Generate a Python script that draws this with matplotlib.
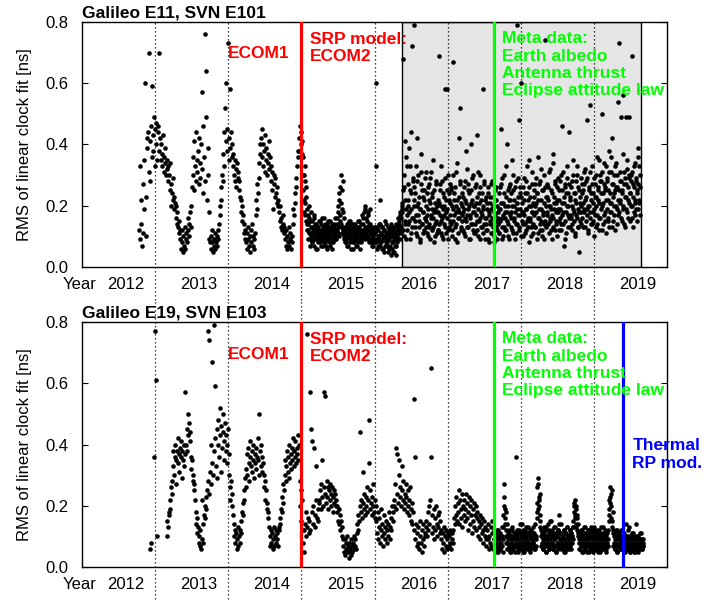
import numpy as np
import matplotlib
matplotlib.use("Agg")
import matplotlib.pyplot as plt
from matplotlib.ticker import FormatStrFormatter

plt.rcParams['font.family'] = ['Liberation Sans', 'DejaVu Sans']

# --- Data: RMS of linear clock fit, sampled every 3rd day, in units of 0.01 ns ---
STEP_DAYS = 3
e11_start = 2012.78
e19_start = 2012.93
# second sampling, shifted by 1.5 days, for the dense later periods
e11_b_start = 2015.018
e19_b_start = 2017.632

e11_rms = [
    # 2012.8 - 2015.0 (ECOM1, eclipse-season pattern)
    12, 33, 9, 22, 14, 7, 27, 11, 35, 19, 60, 10, 23, 42,
    39, 44, 31, 70, 41, 28, 46, 36, 59, 43, 38, 49, 33, 45, 40, 47, 35,
    44, 46, 70, 38, 42, 35, 40, 33, 37, 43, 31, 36, 34, 39, 30, 35, 32,
    33, 28, 30, 25, 34, 20, 27, 24, 29, 22,
    23, 19, 21, 16, 20, 14, 18, 13, 15, 11, 12,
    9, 6, 12, 8, 5, 10, 7, 13, 6, 9, 11, 8,
    12, 16, 10, 14, 18, 13, 20, 26,
    30, 36, 25, 41, 33, 28, 44, 35, 31, 38, 27, 42, 34, 29,
    40, 32, 57, 24, 46, 36, 76, 28, 49, 64, 22, 39, 30,
    9, 18, 8,
    10, 6, 8, 12, 5, 9, 7, 11, 6, 8, 10, 7, 12, 9,
    14, 20, 17, 26, 22, 30, 28, 37, 33, 44, 52,
    41, 60, 38, 45, 73, 35, 42, 58, 39, 44, 36, 40,
    37, 33, 30, 35, 28, 32, 26, 34, 29, 31, 25, 28, 23,
    22, 18, 20, 15, 17, 11, 14, 9, 12,
    8, 11, 6, 13, 9, 7, 10, 5, 12, 8, 14, 7, 10, 6, 9, 11,
    17, 22, 19, 27, 24, 34, 29, 37, 40,
    42, 36, 45, 33, 40, 38, 31, 43, 35, 39, 30, 37, 34, 41, 32, 36,
    33, 28, 31, 25, 19, 30, 27, 23, 29, 24, 21, 26, 20, 22,
    18, 15, 20, 13, 16, 12, 17, 14, 11, 13,
    9, 7, 12, 6, 10, 8, 13, 7, 11, 9, 6, 10, 8,
    14, 19, 17, 24, 21, 29, 26, 33, 38, 36,
    42, 38, 46, 40, 44, 37, 41,
    36, 30, 22, 33, 17, 26, 14, 19,
    # 2015 - 2016.4 (ECOM2)
    17, 12, 20, 9, 15, 11, 18, 8, 13, 10, 16, 7, 12, 9, 14, 11, 6, 13, 10, 15,
    8, 12, 9, 11, 16, 7, 13, 10, 8, 14, 9, 12, 6, 11, 15, 9, 13, 7, 10, 12,
    8, 14, 11, 9, 13, 10, 16,
    10, 14, 12, 18, 11, 22, 15, 26, 13, 30, 19, 28, 12, 16, 9, 11,
    8, 12, 10, 14, 7, 11, 13, 9, 15, 6, 10, 12, 8, 14, 11, 9, 13, 7, 12, 10,
    15, 8, 11, 13, 6, 10, 14, 9, 12, 16, 11, 18, 13, 20, 10, 15, 12, 17, 9, 14,
    11, 19, 8, 13, 10, 12, 7, 11, 9, 13,
    60, 33, 9, 12, 7, 14, 10, 8, 22, 11, 6, 13, 9, 12, 5, 10, 15, 8, 11, 7,
    13, 9, 6, 12, 10, 4, 14, 8, 11, 5, 9, 13, 7, 10, 4, 12, 8, 16, 11, 14,
    9, 18, 13, 20,
    # 2016.4 - 2019.6 (shaded period)
    21, 68, 12, 26, 41, 15, 19, 9, 33, 22, 14, 39, 18, 25, 11, 44, 72, 16, 28, 20,
    79, 13, 24, 17, 42, 10, 21, 30, 15, 19, 8, 27, 37, 14, 23, 18, 12, 25, 16, 31,
    20, 11, 17, 26, 14, 22, 9, 29, 16, 19, 24, 13, 35, 18, 10, 21, 27, 15, 20, 12,
    18, 69, 14, 25, 11, 20, 28, 16, 9, 23, 17, 58, 13, 22, 58, 19, 30, 12, 24, 15,
    21, 14, 26, 10, 19, 67, 17, 24, 13, 31, 20, 8, 22, 16, 42, 18, 27, 52, 12, 20,
    15, 23, 18, 11, 28, 16, 21, 38, 13, 25, 19, 9, 24, 17, 40, 14, 22, 29, 12, 20,
    18, 26, 11, 21, 15, 43, 19, 10, 24, 16, 30, 13, 22, 17, 58, 20, 27, 14, 9, 23,
    16, 21, 12, 26, 18, 8, 23, 15, 19, 11, 28, 14, 20, 10, 25, 17, 13, 22, 9, 18,
    14, 24, 11, 19, 27, 45, 16, 9, 21, 13, 30, 18, 12, 23, 15, 40, 20, 10, 26, 17,
    22, 13, 18, 35, 11, 25, 16, 20, 9, 28, 14, 19, 79, 23, 12, 48, 17, 26, 60, 15,
    21, 10, 18, 29, 14, 24, 12, 19, 33, 16, 22, 8, 26, 15, 20, 13, 31, 18, 11, 23,
    17, 27, 13, 21, 9, 24, 16, 36, 19, 12, 28, 15, 22, 10, 25, 18, 14, 30, 74, 20,
    13, 23, 17, 26, 11, 20, 32, 15, 19, 9, 24, 37, 16, 21, 12, 27, 18, 14, 22, 29,
    19, 12, 25, 16, 30, 14, 21, 46, 18, 7, 23, 15, 27, 11, 20, 33, 17, 24, 44, 13,
    22, 16, 28, 12, 19, 35, 15, 24, 10, 21, 17, 30, 13, 26, 18, 5, 23, 14, 20, 27,
    16, 25, 19, 31, 13, 22, 28, 17, 48, 20, 11, 26, 53, 18, 24, 14, 33, 21, 15, 29,
    19, 27, 13, 23, 36, 17, 25, 12, 21, 30, 16, 28, 20, 50, 14, 24, 34, 18, 26, 11,
    22, 29, 16, 25, 38, 13, 21, 31, 18, 27, 42, 15, 24, 20, 33, 12, 26, 19, 30, 17,
    54, 73, 21, 28, 16, 49, 25, 19, 56, 31, 14, 23, 49, 27, 18, 35, 22, 29, 49, 15,
    24, 30, 69, 20, 27, 13, 33, 22, 17, 28, 19, 25, 36, 39, 33, 21, 26,
]

e11_rms_b = [
    # 2015 - 2016.4
    30, 25, 18, 28, 21, 15, 23, 12,
    14, 9, 16, 11, 7, 13, 10, 15, 8, 12, 17, 9, 11, 14, 6, 10, 13, 8, 12, 9,
    15, 11, 7, 14, 10, 12, 9, 16, 8, 11, 13, 7, 10, 14, 12, 8, 11, 15, 9, 13,
    6, 10, 12, 8, 14, 11, 9,
    12, 9, 16, 13, 20, 10, 24, 17, 21, 14, 25, 11, 18, 10, 13, 8,
    11, 9, 13, 7, 12, 10, 15, 8, 11, 14, 9, 12, 6, 13, 10, 8, 14, 11, 9, 12,
    7, 13, 10, 15, 9, 12, 8, 11, 17, 10, 14, 12, 19, 9, 16, 11, 13, 18, 10, 12,
    8, 14, 11, 9, 12, 7, 10, 13, 8, 11,
    11, 8, 13, 6, 10, 12, 9, 14, 7, 11, 8, 13, 10, 6, 12, 9, 7, 11, 14, 8,
    10, 5, 12, 9, 7, 11, 13, 6, 10, 8, 12, 5, 9, 11, 14, 7, 10, 13, 9, 15,
    12, 17, 11, 16, 19,
    # 2016.4 - 2019.6
    18, 25, 10, 30, 14, 22, 36, 17, 12, 27, 20, 15, 33, 9, 24, 19, 13, 29, 16, 22,
    26, 15, 33, 11, 20, 28, 17, 13, 23, 9, 19, 31, 14, 25, 18, 11, 22, 16, 29, 13,
    15, 24, 19, 10, 27, 13, 21, 17, 31, 12, 23, 16, 8, 25, 19, 14, 28, 11, 18, 22,
    12, 21, 17, 27, 15, 33, 10, 19, 24, 14, 20, 29, 11, 18, 25, 16, 9, 22, 13, 27,
    17, 25, 12, 20, 30, 15, 22, 9, 26, 18, 14, 34, 19, 11, 23, 16, 28, 13, 21, 17,
    24, 12, 19, 26, 10, 22, 15, 32, 17, 13, 27, 20, 16, 9, 21, 25, 14, 30, 18, 11,
    20, 14, 27, 17, 12, 23, 31, 15, 21, 9, 26, 18, 13, 24, 19, 11, 28, 16, 22, 14,
    12, 19, 24, 9, 17, 21, 14, 27, 11, 16, 23, 13, 18, 8, 22, 15, 26, 12, 20, 16,
    19, 11, 26, 15, 21, 13, 29, 17, 10, 24, 16, 20, 33, 12, 18, 25, 14, 22, 9, 27,
    16, 24, 20, 12, 30, 15, 22, 18, 26, 11, 21, 14, 17, 29, 13, 24, 19, 10, 23, 18,
    14, 26, 17, 22, 11, 28, 19, 15, 24, 13, 20, 35, 16, 23, 10, 27, 18, 14, 21, 25,
    20, 13, 29, 18, 24, 11, 22, 16, 27, 14, 19, 32, 12, 25, 17, 21, 9, 26, 15, 23,
    18, 27, 14, 22, 31, 16, 20, 12, 25, 17, 34, 13, 23, 19, 28, 15, 21, 10, 26, 18,
    22, 15, 28, 19, 12, 25, 17, 31, 14, 21, 26, 9, 24, 18, 29, 13, 20, 27, 16, 23,
    17, 26, 20, 14, 30, 18, 24, 11, 22, 28, 16, 33, 19, 13, 25, 21, 15, 29, 18, 24,
    21, 13, 27, 18, 32, 15, 23, 19, 29, 12, 25, 20, 16, 31, 22, 14, 27, 18, 24, 10,
    23, 17, 30, 20, 14, 26, 22, 35, 16, 28, 19, 24, 12, 31, 21, 17, 27, 15, 25, 33,
    19, 28, 22, 15, 31, 24, 18, 36, 21, 13, 27, 23, 30, 17, 25, 20, 34, 14, 26, 22,
    25, 18, 31, 22, 28, 15, 24, 37, 20, 27, 13, 29, 23, 19, 32, 16, 26, 21, 30, 24,
    20, 28, 16, 31, 23, 18, 26, 34, 21, 29, 15, 24, 19, 27, 22, 30, 17,
]

e19_rms = [
    # 2012.9 - 2015.0 (ECOM1)
    6, None, 8, None, None, None, None, 36, 77, None, 61, None, 10,
    None, None, None, None, None, None, None, None, None, None, None, None, None, None, None,
    10, 15, 13, 18, 17, 22, 19, 26, 24, 28,
    33, 38, 30, 36, 40, 35, 27, 38, 42, 34, 37, 31, 39, 36, 41, 29, 38, 35, 40, 33, 37,
    57, 40, 45, 38, 50, 43, 47, 41, 44,
    36, 32, 35, 28, 30, 25, 27, 22,
    18, 14, 16, 11, 13, 8, 10, 7, 12, 6, 9, 22, 8,
    14, 17, 20, 16, 23, 19, 25,
    28, 77, 24, 74, 31, 40, 27, 34, 67, 30,
    79, 38, 59, 42, 33, 45, 29, 48, 40, 36, 52, 43, 31, 46, 39, 50, 44, 35, 41, 47, 38, 43, 34, 40, 45, 37,
    30, 26, 22, 28, 20, 24, 17,
    14, 10, 12, 8, 11, 6, 9, 13, 7, 10, 12, 8, 11,
    15, 18, 21, 17, 25, 22, 29, 26,
    32, 37, 30, 39, 34, 28, 36, 41, 33, 38, 31, 35, 40, 29, 37, 34, 39, 32, 36, 42,
    35, 30, 50, 38, 33, 40, 36, 31, 34,
    30, 26, 28, 22, 25, 19, 21, 16, 18, 13,
    10, 7, 12, 8, 11, 6, 9, 13, 7, 10, 8, 12, 9, 11, 7, 13,
    12, 16, 14, 19, 18, 23, 21, 27, 25,
    30, 35, 28, 33, 38, 31, 36, 40, 29, 34, 37, 32, 39, 35, 42, 33, 38, 36, 41, 34,
    39, 37, 43, 35, 40,
    28, 20, 25, 15, 22, 12,
    # 2015 - 2017.6 (ECOM2)
    8, 12, 5, 14, 10, 18, 76, 13, 16, 11,
    15, 57, 12, 45, 18, 41, 14, 20, 39, 17, 13, 22, 33, 16, 19, 15, 21,
    22, 25, 19, 27, 23, 35, 20, 26, 57, 24, 56, 21, 28, 23, 26, 19, 25, 22, 27, 24,
    20, 26, 23, 18, 25, 21, 24, 20,
    22, 18, 20, 15, 19, 14, 17, 12, 15, 10, 13, 9,
    7, 5, 9, 4, 8, 6, 10, 5, 7, 3, 8, 6, 9, 4, 7, 5, 8, 6, 10, 7, 9, 6,
    11, 14, 12, 17, 15, 20, 44, 18, 22, 16, 31, 21, 19, 24, 17, 23, 20, 26, 18, 22,
    48, 34, 19, 25, 21, 17, 23, 20, 27, 18, 22, 16, 20,
    15, 11, 18, 9, 13, 16, 8, 12, 19, 10, 14, 7, 17, 11, 13, 9, 15, 12, 8, 14,
    10, 18, 13, 9, 16, 12, 20, 15,
    18, 22, 20, 27, 19, 39, 24, 37, 21, 30, 35, 23, 26, 20, 33, 25, 22, 28, 19, 24,
    21, 27, 23, 18, 25, 20, 22, 17, 26, 19, 15, 21, 14, 18,
    12, 55, 9, 36, 14, 7, 11, 8, 13, 6, 10, 15, 8, 12, 5, 9, 14, 7, 11, 10, 13,
    15, 10, 18, 12, 20, 14, 22, 65, 36, 11, 17, 13, 19, 9, 16, 12, 20, 14, 10, 17,
    13, 18, 11, 15, 12,
    9, 6, 11, 8, 13, 5, 10, 7, 12, 6, 9, 11, 7, 10, 8, 12, 6, 9, 11, 8,
    12, 16, 14, 20, 17, 23, 15, 21, 18, 25, 14, 22, 19, 16, 24, 13, 20, 17, 22, 15,
    19, 24, 16, 21, 12, 18, 23, 14, 20, 17, 22, 11, 19, 15, 21, 13, 17, 20, 12, 16,
    18, 10, 15, 13, 17, 9, 14, 11, 16, 8, 12, 15, 10, 13, 9,
    7, 12, 9, 14, 6, 10, 8, 13, 7, 11, 15, 6, 9, 12,
    # 2017.6 - 2019.6 (meta data, thermal RP model)
    8, 6, 10, 7, 12, 5, 9, 11, 6, 8, 10, 7, 13, 5, 9, 20, 27, 16, 18, 12,
    14, 8, 10, 6, 11, 7, 9, 5, 8, 12, 6, 10, 7, 9, 11, 36,
    7, 10, 5, 9, 12, 6, 8, 11, 7, 14, 9, 5, 10, 8, 12, 6, 9, 7, 11, 8,
    13, 6, 10, 5, 9, 12, 7, 8, 11, 6, 9, 14, 7, 10,
    18, 26, 29, 22, 20, 24, 15, 12,
    8, 11, 6, 9, 13, 7, 10, 5, 12, 8, 9, 14, 6, 11, 7, 10, 15, 8, 12, 6,
    9, 11, 7, 13, 5, 10, 8, 12, 6, 17, 9, 11, 7, 14, 8, 10, 6, 12, 9, 5,
    11, 7, 13, 8, 10, 6, 9, 12, 7, 11, 8, 10, 13,
    15, 20, 22, 17, 19, 13, 16, 11, 14,
    9, 6, 11, 8, 12, 5, 10, 7, 13, 9, 6, 11, 8, 10, 5, 12, 7, 9, 11, 6,
    8, 13, 7, 10, 5, 9, 12, 6, 8, 11, 7, 10, 6, 12, 9, 5, 11, 8, 10, 7,
    13, 6, 9, 11, 8, 5, 10, 7, 12, 9,
    17, 22, 26, 20, 24, 15, 18, 12,
    8, 11, 6, 10, 7, 12, 5, 9, 11, 7, 8, 10, 6, 12, 9, 7, 10,
    7, 9, 5, 8, 14, 6, 10, 7, 13, 8, 5, 9, 6, 11, 7, 8, 10, 5, 9, 6,
    14, 7, 8, 5, 10, 6, 9, 7, 11, 8, 6, 9, 7,
]

e19_rms_b = [
    9, 7, 11, 6, 8, 10, 5, 12, 7, 9, 6, 11, 8, 10, 7, 13,
    17, 23, 14, 19, 10,
    8, 6, 11, 9, 7, 12, 5, 10, 8, 13, 6, 9, 11, 7, 10, 5, 8, 12, 9, 6,
    11, 7, 14, 8, 10, 6, 9, 12, 7, 11, 5, 8, 10, 13, 6, 9, 7, 11, 8, 12,
    6, 10, 9, 7, 13, 8, 11, 6, 10, 9,
    16, 21, 27, 19, 23, 17, 13, 10,
    7, 10, 6, 12, 8, 11, 9, 5, 13, 7, 10, 8, 12, 6, 9, 15, 7, 11, 8, 10,
    6, 13, 9, 7, 11, 5, 10, 8, 12, 7, 14, 9, 6, 11, 8, 10, 7, 12, 5, 9,
    11, 8, 13, 6, 10, 7, 9, 12, 8, 11, 6, 10, 9,
    13, 18, 21, 16, 20, 14, 17, 12, 10,
    8, 11, 6, 10, 7, 12, 9, 5, 11, 8, 13, 6, 10, 7, 9, 12, 8, 11, 5, 10,
    7, 12, 9, 6, 11, 8, 13, 7, 10, 6, 9, 12, 8, 5, 11, 7, 10, 9, 13, 6,
    8, 11, 7, 10, 12, 6, 9, 8, 11, 7,
    15, 19, 23, 21, 16, 25, 13, 11,
    7, 10, 6, 9, 12, 8, 5, 11, 7, 10, 9, 6, 12, 8, 10, 7, 9, 5, 11, 8,
    6, 10, 7, 9, 12, 6, 8, 5, 10, 7, 9, 6, 11, 8, 7, 10, 5, 9, 6, 8,
    10, 7, 9, 6, 8, 11, 7, 9, 6, 8, 7,
]

year_labels = [2012, 2013, 2014, 2015, 2016, 2017, 2018, 2019]
year_bounds = [2013, 2014, 2015, 2016, 2017, 2018, 2019]
ecom2_switch = 2015.0
metadata_switch = 2017.63
thermal_switch = 2019.40
shade_span = (2016.37, 2019.64)

RED = '#ff0000'
GREEN = '#00ff00'
BLUE = '#0000ff'
TXT = 12.5


def series(start, rms):
    vals = np.array(rms, dtype=float) / 100.0
    t = start + np.arange(len(vals)) * STEP_DAYS / 365.25
    return t, vals


def draw_panel(ax, sets, title, dot_lo, dot_hi):
    ax.set_xlim(2012, 2020)
    ax.set_ylim(0, 0.8)

    # year boundaries, running past the axes like in the original layout
    for yr in year_bounds:
        ax.plot([yr, yr], [dot_lo, dot_hi], transform=ax.get_xaxis_transform(),
                color='k', lw=0.9, ls=(0, (1, 2.2)), clip_on=False, zorder=1.5)

    for t, vals in sets:
        ax.plot(t, vals, 'o', color='k', markersize=3.3, markeredgewidth=0, zorder=3)

    ax.axvline(ecom2_switch, color=RED, lw=2.3, zorder=4)
    ax.axvline(metadata_switch, color=GREEN, lw=2.3, zorder=4)

    ax.text(2014.0, 0.72, 'ECOM1', color=RED, fontsize=TXT, fontweight='bold',
            va='top', ha='left', zorder=5)
    ax.text(2015.12, 0.768, 'SRP model:\nECOM2', color=RED, fontsize=TXT,
            fontweight='bold', va='top', ha='left', zorder=5)
    ax.text(2017.75, 0.77, 'Meta data:\nEarth albedo\nAntenna thrust\nEclipse attitude law',
            color=GREEN, fontsize=TXT, fontweight='bold', va='top', ha='left', zorder=5)

    ax.set_title(title, loc='left', fontsize=TXT, fontweight='bold', pad=3)

    ax.set_yticks([0.0, 0.2, 0.4, 0.6, 0.8])
    ax.yaxis.set_major_formatter(FormatStrFormatter('%.1f'))
    ax.tick_params(axis='y', direction='in', length=4, width=0.8, right=True,
                   labelsize=12, pad=10)
    ax.set_xticks([y + 0.6 for y in year_labels])
    ax.set_xticklabels([str(y) for y in year_labels])
    ax.tick_params(axis='x', length=0, labelsize=12, pad=7)
    ax.annotate('Year', xy=(2011.97, 0), xycoords=('data', 'axes fraction'),
                xytext=(0, -7), textcoords='offset points', ha='center', va='top',
                fontsize=12, annotation_clip=False)

    ax.set_ylabel('RMS of linear clock fit [ns]', fontsize=12)
    ax.yaxis.set_label_coords(-0.085, 0.5)
    for sp in ax.spines.values():
        sp.set_linewidth(1.0)


fig = plt.figure(figsize=(7.27, 6.02), dpi=100)
ax1 = fig.add_axes([0.1128, 0.5565, 0.8047, 0.407])
ax2 = fig.add_axes([0.1128, 0.0581, 0.8047, 0.407])

e11_sets = [series(e11_start, e11_rms), series(e11_b_start, e11_rms_b)]
e19_sets = [series(e19_start, e19_rms), series(e19_b_start, e19_rms_b)]

ax1.axvspan(shade_span[0], shade_span[1], facecolor='#e5e5e5', edgecolor='k',
            lw=1.0, zorder=0.5)
draw_panel(ax1, e11_sets, 'Galileo E11, SVN E101', -0.135, 1.0)
draw_panel(ax2, e19_sets, 'Galileo E19, SVN E103', -0.145, 1.09)

ax2.axvline(thermal_switch, color=BLUE, lw=2.3, zorder=4)
ax2.text(2019.525, 0.42, 'Thermal\nRP mod.', color=BLUE, fontsize=TXT,
         fontweight='bold', va='top', ha='left', zorder=5)

fig.savefig('out.png', dpi=100)
